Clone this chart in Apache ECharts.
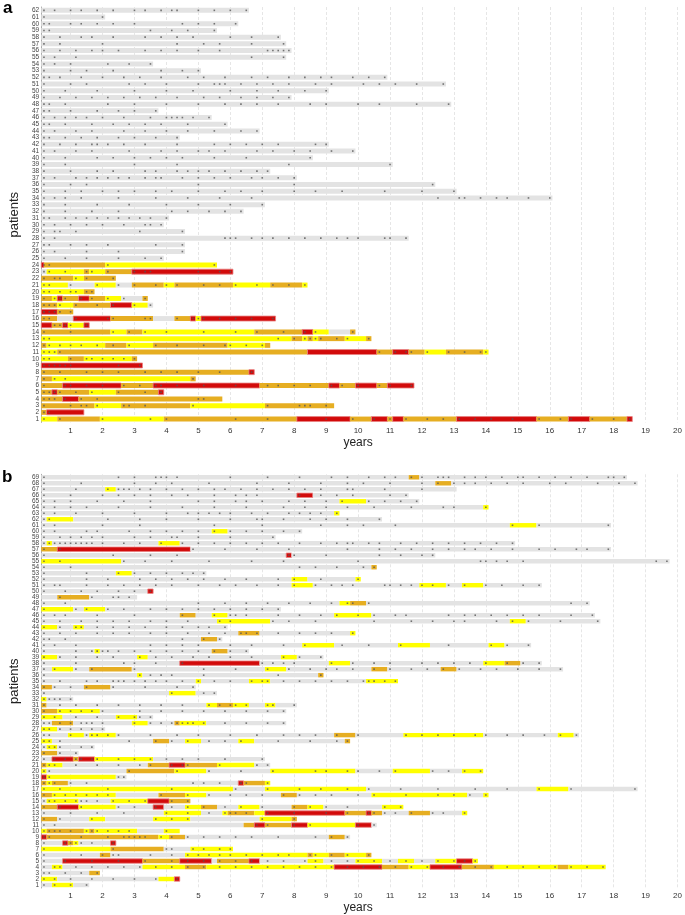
<!DOCTYPE html>
<html>
<head>
<meta charset="utf-8">
<script src="https://cdn.jsdelivr.net/npm/echarts@6/dist/echarts.min.js"></script>
<style>
  html, body { margin: 0; background: #fff; }
  #chart { width: 685px; height: 915px; }
</style>
</head>
<body>
<div id="chart"></div>
<script>
// treatment runs per patient (patient 1 first), months from start: "<colour><end month>"
// G = no treatment, Y / O / R = the three coloured states
var segA = [
  'Y7 O23 Y47 O97 R117 O125 R131 O133 R137 O157 R187 O199 R207 O221 R223',
  'O3 R17', 'O21 Y31 O57 Y85 O111', 'O9 R15 O69', 'O5 R7 O19 Y29 O45 R47',
  'O9 R31 O43 R83 O109 R113 O119 R127 O131 R141', 'O5 Y57 O59', 'O79 R81', 'R39',
  'Y11 O17 Y35 O37', 'Y7 O101 R127 O133 R139 O145 Y153 O167 Y169',
  'O3 Y25 O33 Y43 O71 Y85 O87', 'Y95 O99 Y101 O103 Y105 O115 Y123 O125',
  'O27 Y33 O39 Y81 O99 R103 Y109 G117 O119', 'R5 O9 R11 Y17 R19',
  'O7 G13 R27 O43 G51 O57 R59 Y61 R89', 'R7 O13', 'O7 Y13 O27 R35 Y41 G43',
  'O5 Y7 R9 O15 R19 O25 Y31 G39 O41', 'Y17 O21',
  'Y11 G21 Y29 G35 O47 Y51 O73 Y87 O99 Y101', 'O13 Y17 O29',
  'G3 Y17 O19 Y25 O35 R73', 'R2 O25 Y67',
  'G47', 'G55', 'G55', 'G139', 'G55', 'G47', 'G49', 'G77', 'G85', 'G193',
  'G157', 'G149', 'G97', 'G87', 'G133', 'G103', 'G119', 'G109', 'G53', 'G83',
  'G71', 'G65', 'G45', 'G155', 'G95', 'G109', 'G153', 'G131', 'G61', 'G43',
  'G93', 'G95', 'G93', 'G91', 'G67', 'G75', 'G25', 'G79'
];

// visit months per patient (patient 1 first)
var visitsA = [
  [2,8,24,42,48,74,86,108,118,126,132,138,146,152,158,164,170,178,188,196,200,208,216,222],
  [2,4], [2,12,16,18,22,32,34,40,58,86,98,100,102,108], [2,4,6,10,16,22,60,62],
  [2,4,6,8,14,20,30,40,46],
  [2,10,12,18,24,32,38,44,46,52,62,74,86,90,96,102,110,114,120,128,132,140],
  [2,6,10,58], [2,8,18,24,30,40,46,52,60,68,80], [2,4,6,8,10,12,30,38],
  [2,4,12,18,20,24,28,32,36], [2,4,6,8,128,134,138,140,146,154,160,166,168],
  [2,4,8,12,16,22,28,34,44,52,62,70,72,78,84], [2,4,90,96,100,102,104,106,112,116,124],
  [2,12,28,34,40,48,62,74,82,92,100,104,118], [6,8,10,12,18],
  [2,4,14,26,28,40,42,52,58,60,62,68,74,80,88], [2,4,6,8,12], [2,4,6,8,14,22,28,36,42],
  [2,6,8,10,16,20,26,32,40], [2,4,8,12,14,18,20],
  [2,4,12,22,30,36,44,48,52,62,68,74,82,88,94,100], [2,6,8,14,18,28],
  [2,4,10,18,20,26,36,40,42,60,68,72], [2,4,26,66],
  [2,10,18,30,40,46], [2,6,18,30,54], [2,4,12,18,26,44,54],
  [2,6,70,72,74,80,84,88,94,100,106,112,116,120,130,132,138], [2,6,8,14,38,54],
  [2,6,12,18,24,32,40,42,46], [2,4,10,14,18,22,26,30,34,38,42,48],
  [2,10,20,30,50,56,64,70,76], [2,10,22,34,48,60,72,84],
  [2,6,10,16,30,44,56,68,80,150,158,160,166,172,176,184,192],
  [2,10,16,24,30,36,44,50,60,70,76,84,96,104,114,130,144,156], [2,12,18,60,96,148],
  [2,6,14,18,22,26,30,34,40,44,46,54,60,66,72,80,84,90,96],
  [2,12,22,28,40,44,52,56,60,64,70,76,82,86], [2,10,36,52,94,132],
  [2,10,22,28,36,42,48,54,66,78,102],
  [2,6,14,20,34,46,52,60,64,70,82,88,96,102,110,118],
  [2,8,14,20,22,26,32,40,52,66,72,78,84,90,104,108], [2,4,10,16,22,30,36,44,52],
  [2,6,14,20,32,40,48,56,66,76,82], [2,4,10,20,28,34,40,46,56,70],
  [2,6,10,14,18,24,32,42,48,50,52,54,58,64], [2,4,12,22,30,36,44],
  [2,4,10,26,36,48,60,70,76,82,90,102,108,120,128,142,154],
  [2,8,14,20,26,32,38,44,52,62,68,76,82,88,94], [2,10,22,36,48,58,72,82,90,100,108],
  [2,12,18,34,40,48,60,66,68,70,76,82,88,94,104,110,122,128,134,142,152],
  [2,4,8,16,24,32,38,46,56,62,70,80,86,94,100,106,110,118,124,130],
  [2,12,18,28,46,54,60], [2,6,12,26,34,42], [2,6,14,80,92],
  [2,8,14,20,24,30,40,46,52,60,68,86,88,90,92,94], [2,8,24,52,62,68,80,92],
  [2,8,16,20,28,40,46,52,58,72,80,90], [2,4,42,50,56,66],
  [2,4,12,16,22,28,36,54,60,66,74], [2,24],
  [2,6,12,16,22,28,36,40,46,50,52,60,66,72,78]
];

var segB = [
  'G5 Y13 G19', 'Y7 G45 Y51 R53', 'G19 O23',
  'G5 Y9 G39 Y55 O63 Y111 R129 O139 Y147 R159 O171 Y195 O199 Y213',
  'G9 R39 O53 R65 G67 O79 R83 G101 Y107 G119 Y129 G135 Y141 G149 Y157 R163 Y165',
  'G23 O27 G55 Y101 O103 Y109 O115 Y123 O125', 'Y27 O47 G57 Y73',
  'G9 R11 O13 Y15 G27 R29', 'R3 O45 Y49 O55 G109 O115 G117',
  'Y3 O17 Y19 O21 Y37 G47 Y53', 'G77 O81 R85 O95 R101 Y119 R125 G127',
  'O7 G19 Y25 G43 Y57 G83 Y95 O97',
  'G47 Y61 G69 Y71 O81 Y85 R115 O123 R125 O129 G139 O147 G159 Y161',
  'O7 R15 Y29 G43 R47 G55 Y61 O67 G75 Y83 G95 O101 Y107 G129 Y137',
  'G3 Y15 G27 Y41 R49 O57', 'O5 Y29 G45 O55 Y63 G91 O97 G125 Y161 G167 Y169',
  'Y73 G85 Y123 G187 Y199 G225', 'O3 Y5 O11 G75 R77 O85 Y87', 'R3 Y29 G33',
  'Y3 G33 O51 Y63 G87 Y119 G133 Y147 G159 Y167', 'O3 Y9 G41 O49 R55 O67 Y81 G87',
  'G5 R13 O15 R21 Y43 G85', 'O7 G15', 'G3 Y7 G21',
  'Y5 G43 O49 G55 Y61 G75 Y81 G115 O117',
  'G11 Y17 G19 Y29 G111 O119 G137 Y167 G195 Y201 G203', 'Y7 G25',
  'G5 O13 G35 Y41 G51 O53 Y63 G93', 'Y9 G29 Y37 G43', 'O7 Y23 G93',
  'O3 G63 Y67 O73 Y79 G85 Y89 G97', 'Y3 G13', 'G49 Y59 G67', 'O5 G17 O27 G59',
  'G59 Y61 G79 Y87 G123 Y135', 'G37 Y39 G105 O107',
  'G5 Y13 G19 O35 G85 Y93 G125 O131 G151 O157 G197',
  'G53 R83 G109 Y117 G167 Y175 O181 G189', 'Y7 G37 Y41 G91 Y97 G107',
  'G21 Y23 G65 O71 G79', 'G99 Y111 G135 Y147 G169 Y175 G185', 'G61 O67 G69',
  'G75 O83 G117 Y119', 'Y7 G13 Y17 G71', 'G67 Y87 G177 Y183 G211',
  'G53 O59 G65 Y71 G111 Y125 G209', 'Y13 G17 Y25 G91', 'G113 Y117 O123 G207',
  'G7 O19 G37', 'G41 R43', 'G95 Y103 G143 Y153 G159 Y167 G189',
  'G95 Y101 G119 Y121', 'G29 Y35 G63', 'G125 O127', 'Y31 G237', 'G93 R95 G149',
  'O7 R57 G215', 'G3 Y5 G45 Y53 G179', 'G89', 'G65 Y71 G99', 'G177 Y187 G215',
  'G3 Y13 G129', 'G111 Y113', 'G167 Y169', 'G113 Y123 G143', 'G97 R103 G139',
  'G25 Y29 G157', 'G149 O155 G225', 'G139 O143 G221'
];

var visitsB = [
  [2,6,12,18], [2,6,12,20,28,36,44,52], [2,4,10,16,22],
  [2,6,8,14,20,26,32,38,44,50,56,62,68,74,80,86,92,98,104,110,116,122,128,134,140,146,152,158,164,170,176,182,188,194,200,206,212],
  [2,10,20,30,40,50,56,62,68,74,80,86,92,100,104,110,116,120,126,132,138,144,150,156,160,164],
  [2,16,24,28,30,42,50,56,60,64,68,72,78,84,90,94,102,104,110,116,124],
  [2,28,48,50,58,62,68,72], [2,10,12,14,16,20,28],
  [2,4,16,26,32,34,36,38,40,46,50,56,62,68,74,80,90,104,110,116],
  [2,4,6,8,12,18,20,22,26,30,34,48], [2,6,82,86,96,102,120,126],
  [2,8,20,44,50,56,84,96],
  [2,12,22,32,48,56,64,70,72,74,78,86,96,108,116,124,126,130,134,140,148,152,160],
  [2,8,16,30,36,44,50,56,62,70,76,84,96,102,108,116,130,136],
  [2,4,6,10,14,16,18,22,28,34,40,50,56],
  [2,6,10,14,18,22,26,46,56,64,72,78,84,92,98,104,110,120,126,138,150,156,162,168],
  [2,8,26,50,74,86,98,106,116,124,136,150,164,176,188,200,224],
  [2,4,6,12,18,58,62,68,76,78,86], [2,4,30,32],
  [2,4,34,52,64,76,88,104,108,116,120,128,134,148,154,160,166],
  [2,4,6,14,22,30,38,42,50,54,56,68,82,86],
  [2,6,10,14,16,20,22,30,36,42,48,54,60,70,84], [2,8,14], [2,4,6,8,16,20],
  [2,4,8,34,44,50,56,64,70,76,90,102,112,116],
  [2,4,12,18,20,22,26,30,42,52,60,72,82,92,98,104,112,120,138,144,150,156,164,168,176,182,190,196,202],
  [2,4,8,12,16,20,24],
  [2,4,8,12,16,18,20,24,36,42,46,50,52,54,56,58,62,70,78,86,92],
  [2,6,14,22,30,36,38,42], [2,8,12,16,20,24,38,46,54,62,70,78,86,92],
  [2,8,14,22,30,38,46,54,64,68,72,74,78,86,88,96], [2,4,6,8,12], [2,50,62,66],
  [2,6,12,18,28,40,52,58],
  [2,8,18,22,28,30,32,36,40,44,48,54,60,66,72,80,84,86,92,98,104,110,116,122,124,126,130,134],
  [2,38,42,46,50,62,90,106],
  [2,6,14,20,36,62,74,86,94,102,108,112,118,126,132,140,146,152,158,166,172,180,188,196],
  [2,14,32,36,44,54,84,88,92,96,110,118,126,132,144,150,156,162,168,176,182,188],
  [2,8,14,22,28,38,44,50,58,64,72,80,92,98,106],
  [2,14,20,22,24,26,30,36,42,48,54,60,66,72,78],
  [2,6,14,42,48,54,60,72,80,92,100,114,124,136,154,170,176,184], [2,4,10,54,62,68],
  [2,8,14,22,28,34,42,48,56,64,70,76,78,82,90,98,104,110,118],
  [2,8,14,16,22,28,34,40,48,54,60,64,70],
  [2,8,16,22,28,34,42,48,56,68,72,88,94,104,126,140,148,156,160,172,178,184,196,210],
  [2,6,10,22,36,54,66,72,74,78,90,98,106,112,120,126,134,138,154,160,164,170,176,182,188,200,208],
  [2,14,18,26,32,42,48,54,60,66,72,78,84,90],
  [2,10,60,70,78,86,94,102,110,116,118,124,200,206], [8,20,28,30,34],
  [2,10,16,22,30,36,42],
  [2,6,8,18,26,32,38,44,50,60,68,74,82,90,96,104,110,114,118,130,132,136,140,144,148,154,160,168,174,182,188],
  [2,18,26,38,44,50,56,62,70,78,90,96,106,120], [2,18,30,36,42,48,54,58,62],
  [2,12,98,104,112,122,126], [2,8,32,40,50,64,80,92,120,166,168,172,176,182,232,236],
  [2,28,42,52,94,96,108,128,136,144,148],
  [2,8,58,70,82,94,116,128,134,140,148,154,160,164,170,178,188,194,202,206,214],
  [2,4,6,8,10,12,14,16,18,20,24,32,38,46,54,60,66,72,78,84,90,98,106,112,116,118,124,128,136,142,148,154,160,166,172,178],
  [2,8,12,16,20,24,36,42,50,52,60,72,88], [2,6,18,22,34,42,48,54,60,66,72,78,84,92,98],
  [2,6,24,38,66,84,106,116,122,134,178,188,214],
  [2,4,26,38,48,60,72,82,84,92,102,108,116,128],
  [2,6,14,24,36,48,56,60,64,68,72,80,86,94,98,102,106,112],
  [2,6,12,18,30,42,54,66,78,92,100,108,116,126,140,152,156,168],
  [2,6,12,22,32,42,60,66,74,78,84,94,100,108,114,124,130,136,142],
  [2,12,24,30,36,42,50,56,66,74,78,82,98,106,112,118,132,138],
  [2,14,26,30,32,34,38,42,48,54,60,66,70,76,82,88,94,100,106,116,118,130,144],
  [2,16,36,44,50,64,82,94,106,116,122,132,144,150,156,160,164,170,176,182,192,198,210,218,224],
  [2,30,36,44,46,48,52,72,86,98,110,116,124,130,134,140,144,150,152,154,160,164,168,174,180,182,188,194,200,206,214,216,220]
];

var COLORS = { G: '#e3e3e3', Y: '#ffff00', O: '#e6ae22', R: '#d20a0a' };
var FONT = '"Liberation Sans", Arial, sans-serif';

function buildSegs(list) {
  var out = [];
  list.forEach(function (s, i) {
    var from = 1;
    s.split(' ').forEach(function (run) {
      var to = +run.slice(1);
      out.push({ value: [from / 12, to / 12, i], itemStyle: { color: COLORS[run[0]] } });
      from = to;
    });
  });
  return out;
}

function buildDots(list) {
  var out = [];
  list.forEach(function (months, i) {
    months.forEach(function (m) { out.push([m / 12, i]); });
  });
  return out;
}

function drawSeg(params, api) {
  var p0 = api.coord([api.value(0), api.value(2)]);
  var p1 = api.coord([api.value(1), api.value(2)]);
  var h = api.size([0, 1])[1] * 0.74;
  var fill = api.visual('color');
  var red = fill === COLORS.R;
  return {
    type: 'rect',
    shape: { x: p0[0], y: p0[1] - h / 2, width: p1[0] - p0[0], height: h },
    style: { fill: fill, stroke: red ? '#e98080' : null, lineWidth: red ? 0.8 : 0 }
  };
}

function xAxisFor(idx) {
  return {
    type: 'value', gridIndex: idx, min: 0, max: 20, interval: 1,
    axisLine: { show: false }, axisTick: { show: false },
    axisLabel: {
      fontSize: 8, color: '#333', margin: 4, fontFamily: FONT,
      formatter: function (v) { return v === 0 ? '' : v; }
    },
    splitLine: { show: true, showMinLine: false, lineStyle: { color: '#e6e6e6', width: 1, type: [3, 2] } },
    name: 'years', nameLocation: 'middle', nameGap: 14,
    nameTextStyle: { fontSize: 12, color: '#222', fontFamily: FONT }
  };
}

function yAxisFor(idx, n) {
  var cats = [];
  for (var i = 1; i <= n; i++) cats.push(String(i));
  return {
    type: 'category', gridIndex: idx, data: cats, offset: -2.5,
    axisLine: { show: true, lineStyle: { color: '#aaa', width: 1 } },
    axisTick: { show: false },
    axisLabel: { fontSize: 6.5, color: '#444', margin: 2, interval: 0, fontFamily: FONT },
    splitLine: { show: false },
    name: 'patients', nameLocation: 'middle', nameGap: 13, nameRotate: 90,
    nameTextStyle: { fontSize: 13, color: '#222', fontFamily: FONT }
  };
}

var chart = echarts.init(document.getElementById('chart'), null, { renderer: 'canvas' });
chart.setOption({
  animation: false,
  backgroundColor: '#fff',
  title: [
    { text: 'a', left: 3, top: 0, padding: 0, textStyle: { fontSize: 17, fontWeight: 'bold', color: '#000', fontFamily: FONT } },
    { text: 'b', left: 2, top: 469, padding: 0, textStyle: { fontSize: 17, fontWeight: 'bold', color: '#000', fontFamily: FONT } }
  ],
  grid: [
    { left: 30, top: 7, width: 650.7, height: 415.4 },
    { left: 26.3, top: 474.3, width: 654.4, height: 418.1 }
  ],
  xAxis: [xAxisFor(0), xAxisFor(1)],
  yAxis: [yAxisFor(0, segA.length), yAxisFor(1, segB.length)],
  series: [
    { type: 'custom', xAxisIndex: 0, yAxisIndex: 0, renderItem: drawSeg, encode: { x: [0, 1], y: 2 }, data: buildSegs(segA), silent: true },
    { type: 'scatter', xAxisIndex: 0, yAxisIndex: 0, symbol: 'rect', symbolSize: 1.6, itemStyle: { color: '#555' }, data: buildDots(visitsA), silent: true },
    { type: 'custom', xAxisIndex: 1, yAxisIndex: 1, renderItem: drawSeg, encode: { x: [0, 1], y: 2 }, data: buildSegs(segB), silent: true },
    { type: 'scatter', xAxisIndex: 1, yAxisIndex: 1, symbol: 'rect', symbolSize: 1.6, itemStyle: { color: '#555' }, data: buildDots(visitsB), silent: true }
  ]
});
</script>
</body>
</html>
